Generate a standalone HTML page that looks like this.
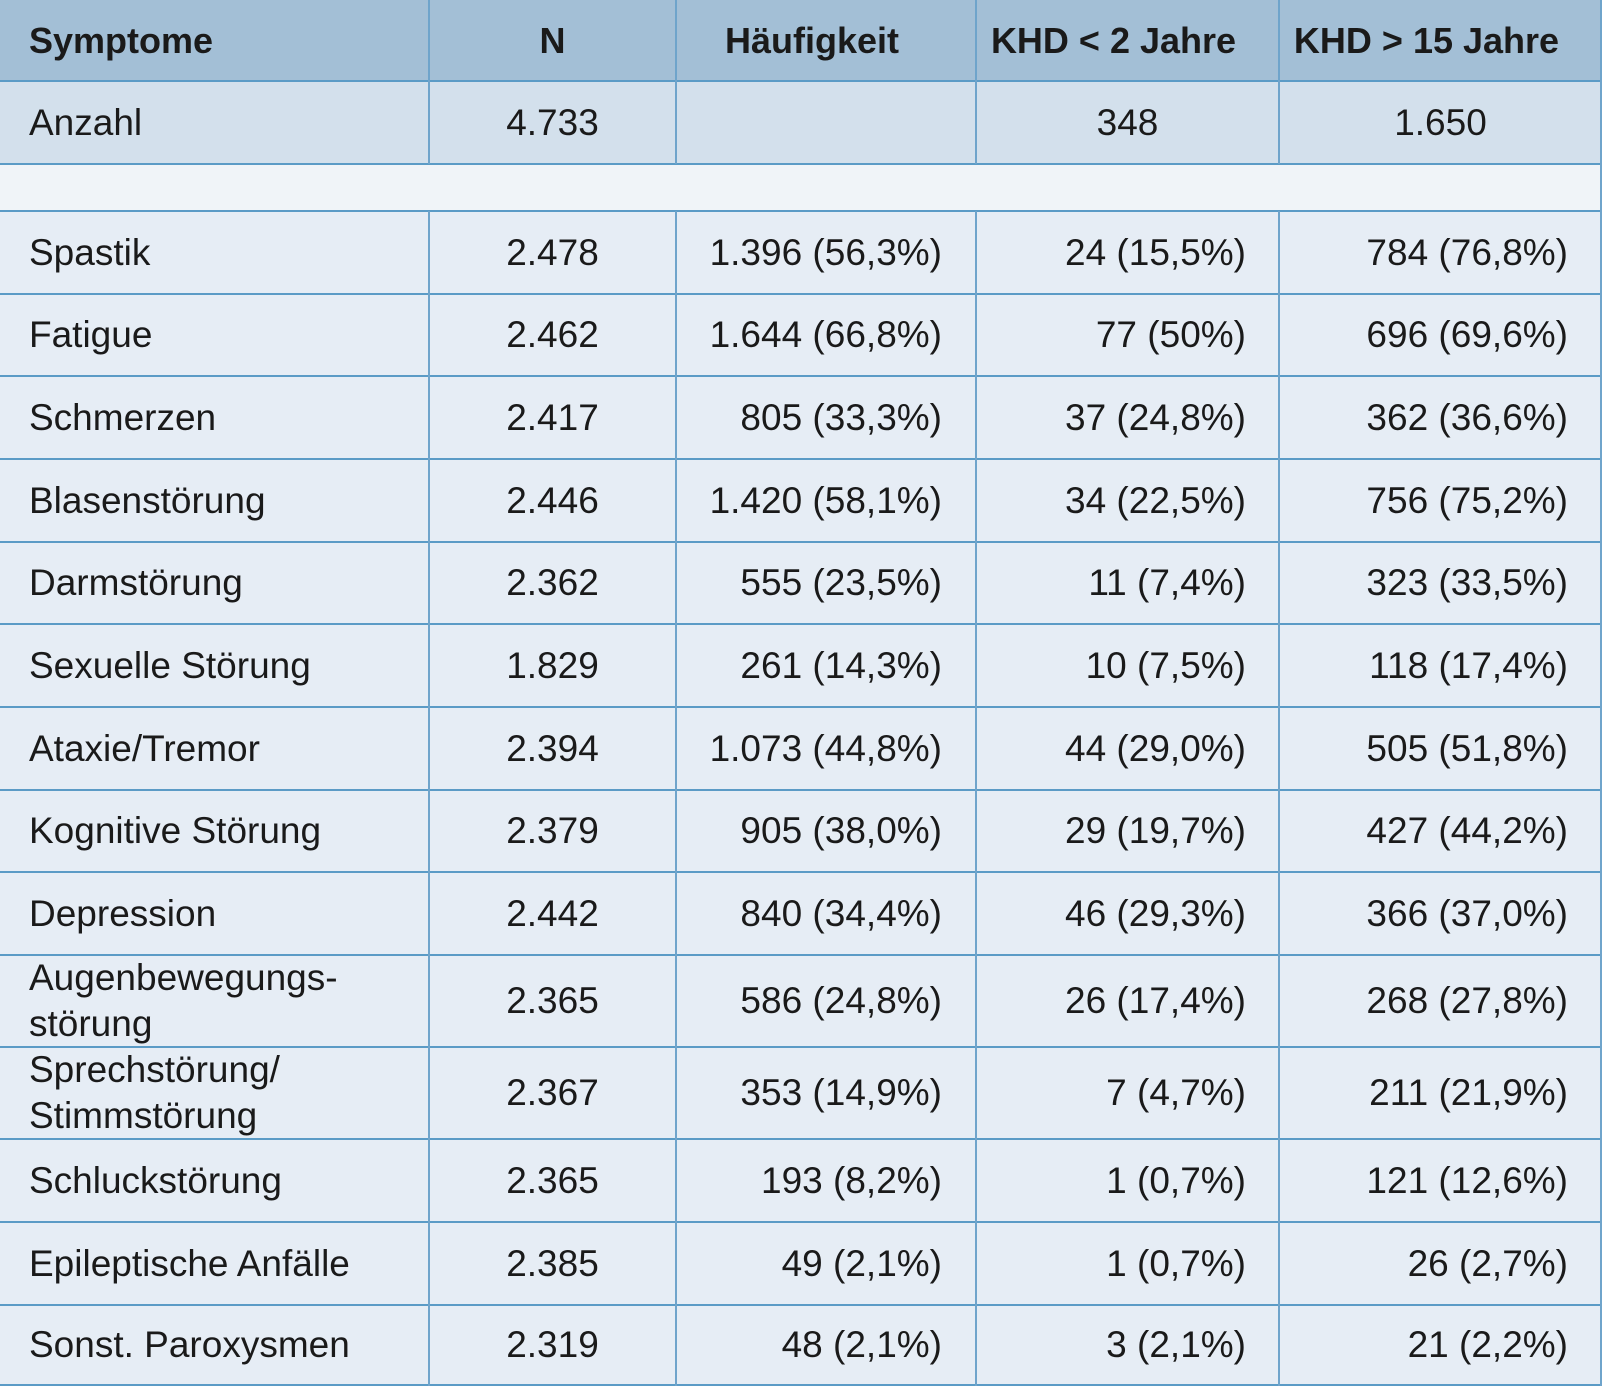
<!DOCTYPE html>
<html><head><meta charset="utf-8"><style>
html,body{margin:0;padding:0;background:#fff;}
body{width:1608px;height:1388px;position:relative;overflow:hidden;font-family:"Liberation Sans",Arial,sans-serif;color:#1a1a1a;}
.r{position:absolute;left:0;width:1602px;}
.c{position:absolute;top:0;height:100%;display:flex;align-items:center;box-sizing:border-box;font-size:37px;white-space:nowrap;}
.c0{left:0;width:429px;padding-left:29px;}
.c1{left:429px;width:247px;justify-content:center;}
.c2{left:676px;width:300px;justify-content:flex-end;padding-right:34px;}
.c3{left:976px;width:303px;justify-content:flex-end;padding-right:33px;}
.c4{left:1279px;width:323px;justify-content:flex-end;padding-right:34px;}
.h .c{font-weight:bold;font-size:36px;}
.h .c2,.h .c3,.h .c4{justify-content:center;padding-right:28px;}
.c0.two{white-space:normal;line-height:46px;}
.hl{position:absolute;left:0;width:1602px;height:2px;background:#5b9bc6;}
.vl{position:absolute;width:2px;background:#6fa4cb;}
</style></head><body>
<div class="r h" style="top:0;height:81px;background:#a3bfd6;">
<div class="c c0">Symptome</div><div class="c c1">N</div><div class="c c2">Häufigkeit</div><div class="c c3">KHD &lt; 2 Jahre</div><div class="c c4">KHD &gt; 15 Jahre</div></div>
<div class="r" style="top:82px;height:82px;background:#d3e0ec;">
<div class="c c0">Anzahl</div><div class="c c1">4.733</div><div class="c c2"></div><div class="c c3" style="justify-content:center;padding-right:0">348</div><div class="c c4" style="justify-content:center;padding-right:0">1.650</div></div>
<div class="r" style="top:164px;height:47px;background:#f0f4f8;"></div>
<div class="r" style="top:211px;height:1175px;background:#e6edf5;"></div>

<div class="r" style="top:211px;height:83px"><div class="c c0">Spastik</div><div class="c c1">2.478</div><div class="c c2">1.396 (56,3%)</div><div class="c c3">24 (15,5%)</div><div class="c c4">784 (76,8%)</div></div>
<div class="r" style="top:294px;height:82px"><div class="c c0">Fatigue</div><div class="c c1">2.462</div><div class="c c2">1.644 (66,8%)</div><div class="c c3">77 (50%)</div><div class="c c4">696 (69,6%)</div></div>
<div class="r" style="top:376px;height:83px"><div class="c c0">Schmerzen</div><div class="c c1">2.417</div><div class="c c2">805 (33,3%)</div><div class="c c3">37 (24,8%)</div><div class="c c4">362 (36,6%)</div></div>
<div class="r" style="top:459px;height:83px"><div class="c c0">Blasenstörung</div><div class="c c1">2.446</div><div class="c c2">1.420 (58,1%)</div><div class="c c3">34 (22,5%)</div><div class="c c4">756 (75,2%)</div></div>
<div class="r" style="top:542px;height:82px"><div class="c c0">Darmstörung</div><div class="c c1">2.362</div><div class="c c2">555 (23,5%)</div><div class="c c3">11 (7,4%)</div><div class="c c4">323 (33,5%)</div></div>
<div class="r" style="top:624px;height:83px"><div class="c c0">Sexuelle Störung</div><div class="c c1">1.829</div><div class="c c2">261 (14,3%)</div><div class="c c3">10 (7,5%)</div><div class="c c4">118 (17,4%)</div></div>
<div class="r" style="top:707px;height:83px"><div class="c c0">Ataxie/Tremor</div><div class="c c1">2.394</div><div class="c c2">1.073 (44,8%)</div><div class="c c3">44 (29,0%)</div><div class="c c4">505 (51,8%)</div></div>
<div class="r" style="top:790px;height:82px"><div class="c c0">Kognitive Störung</div><div class="c c1">2.379</div><div class="c c2">905 (38,0%)</div><div class="c c3">29 (19,7%)</div><div class="c c4">427 (44,2%)</div></div>
<div class="r" style="top:872px;height:83px"><div class="c c0">Depression</div><div class="c c1">2.442</div><div class="c c2">840 (34,4%)</div><div class="c c3">46 (29,3%)</div><div class="c c4">366 (37,0%)</div></div>
<div class="r" style="top:955px;height:92px"><div class="c c0 two">Augenbewegungs-<br>störung</div><div class="c c1">2.365</div><div class="c c2">586 (24,8%)</div><div class="c c3">26 (17,4%)</div><div class="c c4">268 (27,8%)</div></div>
<div class="r" style="top:1047px;height:92px"><div class="c c0 two">Sprechstörung/<br>Stimmstörung</div><div class="c c1">2.367</div><div class="c c2">353 (14,9%)</div><div class="c c3">7 (4,7%)</div><div class="c c4">211 (21,9%)</div></div>
<div class="r" style="top:1139px;height:83px"><div class="c c0">Schluckstörung</div><div class="c c1">2.365</div><div class="c c2">193 (8,2%)</div><div class="c c3">1 (0,7%)</div><div class="c c4">121 (12,6%)</div></div>
<div class="r" style="top:1222px;height:83px"><div class="c c0">Epileptische Anfälle</div><div class="c c1">2.385</div><div class="c c2">49 (2,1%)</div><div class="c c3">1 (0,7%)</div><div class="c c4">26 (2,7%)</div></div>
<div class="r" style="top:1305px;height:80px"><div class="c c0">Sonst. Paroxysmen</div><div class="c c1">2.319</div><div class="c c2">48 (2,1%)</div><div class="c c3">3 (2,1%)</div><div class="c c4">21 (2,2%)</div></div>

<div class="hl" style="top:80px"></div>
<div class="hl" style="top:163px"></div>
<div class="hl" style="top:210px"></div>
<div class="hl" style="top:293px"></div>
<div class="hl" style="top:375px"></div>
<div class="hl" style="top:458px"></div>
<div class="hl" style="top:541px"></div>
<div class="hl" style="top:623px"></div>
<div class="hl" style="top:706px"></div>
<div class="hl" style="top:789px"></div>
<div class="hl" style="top:871px"></div>
<div class="hl" style="top:954px"></div>
<div class="hl" style="top:1046px"></div>
<div class="hl" style="top:1138px"></div>
<div class="hl" style="top:1221px"></div>
<div class="hl" style="top:1304px"></div>
<div class="hl" style="top:1384px"></div>

<div class="vl" style="left:428px;top:0;height:164px"></div>
<div class="vl" style="left:675px;top:0;height:164px"></div>
<div class="vl" style="left:975px;top:0;height:164px"></div>
<div class="vl" style="left:1278px;top:0;height:164px"></div>
<div class="vl" style="left:1600px;top:0;height:1386px"></div>
<div class="vl" style="left:428px;top:211px;height:1175px"></div>
<div class="vl" style="left:675px;top:211px;height:1175px"></div>
<div class="vl" style="left:975px;top:211px;height:1175px"></div>
<div class="vl" style="left:1278px;top:211px;height:1175px"></div>
</body></html>
